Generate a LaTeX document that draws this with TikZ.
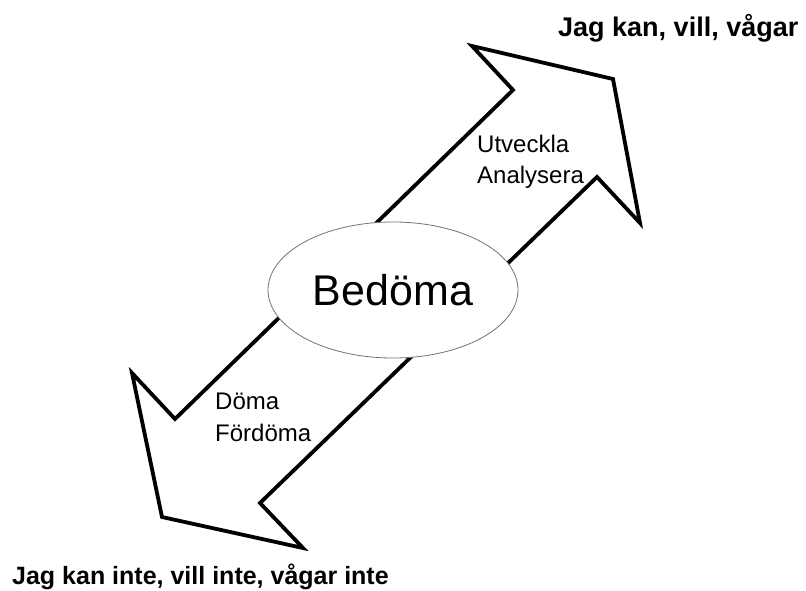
\documentclass[tikz,border=0pt]{standalone}
\usepackage{fontspec}
\setmainfont{Liberation Sans}
\usetikzlibrary{shapes.geometric}

\begin{document}
\begin{tikzpicture}
	[x=1bp,y=-1bp,line join=miter,
	 lbl/.style={inner sep=0pt,anchor=base west,font=\fontsize{24bp}{28bp}\selectfont},
	 goal/.style={inner sep=0pt,anchor=base west,font=\bfseries\fontsize{27bp}{32bp}\selectfont}]
	\useasboundingbox (0,0) rectangle (806,591);
	
	% arrow outline, upper head then lower head
	\coordinate (ua) at (513,90);
	\coordinate (ub) at (472,46);
	\coordinate (uc) at (613,79);
	\coordinate (ud) at (640,223);
	\coordinate (ue) at (597,177);
	\coordinate (la) at (260,503);
	\coordinate (lb) at (303,548);
	\coordinate (lc) at (162,517);
	\coordinate (ld) at (132,373);
	\coordinate (le) at (175,419);
	\draw[line width=3.8bp,fill=white] (ua) -- (ub) -- (uc) -- (ud) -- (ue)
		-- (la) -- (lb) -- (lc) -- (ld) -- (le) -- cycle;
	
	\node (bedoma) [ellipse,draw=black!55,line width=0.8bp,fill=white,
		minimum width=250bp,minimum height=136bp,inner sep=0pt,
		font=\fontsize{43bp}{50bp}\selectfont] at (393,290) {Bedöma};
	
	\node (utveckla)  [lbl] at (477,153) {Utveckla};
	\node (analysera) [lbl] at (477,184) {Analysera};
	\node (doma)      [lbl] at (215,409) {Döma};
	\node (fordoma)   [lbl] at (215,441) {Fördöma};
	
	\node (kan)  [goal] at (558,37) {Jag kan, vill, vågar};
	\node (inte) [goal,font=\bfseries\fontsize{25bp}{30bp}\selectfont] at (12,584) {Jag kan inte, vill inte, vågar inte};
	
\end{tikzpicture}
\end{document}
